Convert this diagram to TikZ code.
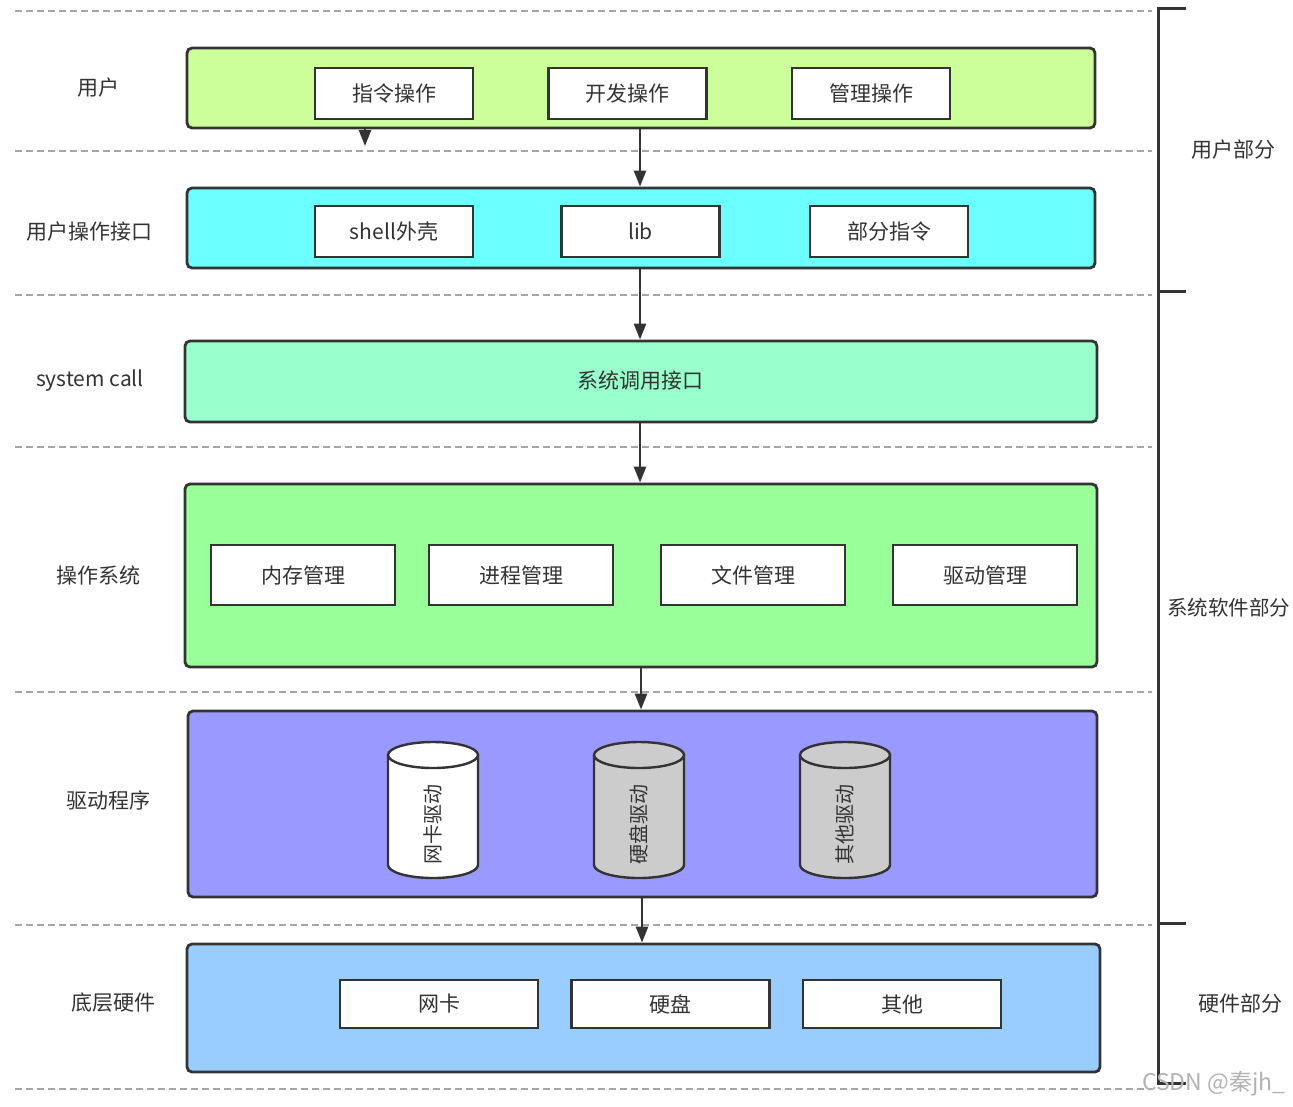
\documentclass[tikz,border=0pt]{standalone}
\usepackage{fontspec}
\setmainfont{Noto Sans CJK SC}
\usetikzlibrary{arrows.meta,calc}
\definecolor{txt}{HTML}{333333}
\definecolor{edge}{HTML}{333333}
\definecolor{dashc}{HTML}{A6A6A6}
\definecolor{cuser}{HTML}{CCFF99}
\definecolor{ciface}{HTML}{6CFFFF}
\definecolor{csys}{HTML}{99FFCC}
\definecolor{cos}{HTML}{99FF99}
\definecolor{cdrv}{HTML}{9999FF}
\definecolor{chw}{HTML}{99CCFF}
\definecolor{cgray}{HTML}{CCCCCC}
\tikzset{
  layer/.style={draw=edge, line width=2.8pt, rounded corners=5pt, inner sep=0pt},
  item/.style={draw=edge, line width=2.4pt, fill=white, inner sep=0pt, text=txt, font=\fontsize{21}{25}\selectfont},
  lbl/.style={text=txt, font=\fontsize{21}{25}\selectfont, inner sep=0pt},
  sep/.style={draw=dashc, line width=1.4pt, dash pattern=on 7pt off 4pt},
  arr/.style={draw=edge, line width=2.6pt, -{Triangle[length=16pt,width=12pt]}},
  brk/.style={draw=edge, line width=3pt},
  cylbody/.style={draw=edge, line width=2.4pt},
}
\begin{document}
\begin{tikzpicture}[x=1pt,y=-1pt]
\useasboundingbox (0,0) rectangle (1293,1106);
% dashed separators
\foreach \yy in {11,151,295,447,692,925,1089}
  \draw[sep] (15,\yy) -- (1152,\yy);
% layers
\node[layer, fill=cuser, minimum width=908pt, minimum height=80pt] (user) at (641,88) {};
\node[layer, fill=ciface, minimum width=908pt, minimum height=80pt] (iface) at (641,228) {};
\node[layer, fill=csys, minimum width=912pt, minimum height=81pt] (sys) at (641,381.5) {};
\node[layer, fill=cos, minimum width=912pt, minimum height=183pt] (os) at (641,575.5) {};
\node[layer, fill=cdrv, minimum width=909pt, minimum height=186pt] (drv) at (642.5,804) {};
\node[layer, fill=chw, minimum width=913pt, minimum height=128pt] (hw) at (643.5,1008) {};
% left labels
\node[lbl] (l1) at (98,88) {用户};
\node[lbl] (l2) at (90,232) {用户操作接口};
\node[lbl] (l3) at (90,381) {system call};
\node[lbl] (l4) at (98,575) {操作系统};
\node[lbl] (l5) at (108,800) {驱动程序};
\node[lbl] (l6) at (113,1003) {底层硬件};
% user items
\node[item, minimum width=158pt, minimum height=51pt] (u1) at (394,93.5) {指令操作};
\node[item, minimum width=158pt, minimum height=51pt] (u2) at (627.5,93.5) {开发操作};
\node[item, minimum width=158pt, minimum height=51pt] (u3) at (871,93.5) {管理操作};
% interface items
\node[item, minimum width=158pt, minimum height=51pt] (i1) at (394,231.5) {shell外壳};
\node[item, minimum width=158pt, minimum height=51pt] (i2) at (640.5,231.5) {lib};
\node[item, minimum width=158pt, minimum height=51pt] (i3) at (889,231.5) {部分指令};
% system call text
\node[lbl] (s1) at (640,381) {系统调用接口};
% os items
\node[item, minimum width=184pt, minimum height=60pt] (o1) at (303,575) {内存管理};
\node[item, minimum width=184pt, minimum height=60pt] (o2) at (521,575) {进程管理};
\node[item, minimum width=184pt, minimum height=60pt] (o3) at (753,575) {文件管理};
\node[item, minimum width=184pt, minimum height=60pt] (o4) at (985,575) {驱动管理};
% cylinders
\foreach \cx/\cf/\nm/\tx in {433/white/d1/网卡驱动, 639/cgray/d2/硬盘驱动, 845/cgray/d3/其他驱动}{
  \fill[\cf] (\cx-45,755) -- (\cx-45,865) arc[start angle=180,end angle=360,x radius=45pt,y radius=13pt] -- (\cx+45,755) -- cycle;
  \draw[cylbody, fill=\cf] (\cx-45,755) -- (\cx-45,865) arc[start angle=180,end angle=360,x radius=45pt,y radius=13pt] -- (\cx+45,755);
  \draw[cylbody, fill=\cf] (\cx,755) ellipse[x radius=45pt, y radius=13pt];
  \node[lbl, rotate=90, font=\fontsize{20}{23}\selectfont] (\nm) at (\cx,824) {\tx};
}
% hardware items
\node[item, minimum width=198pt, minimum height=48pt] (h1) at (439,1004) {网卡};
\node[item, minimum width=198pt, minimum height=48pt] (h2) at (670.5,1004) {硬盘};
\node[item, minimum width=198pt, minimum height=48pt] (h3) at (902,1004) {其他};
% arrows
\coordinate (stub) at (365,146);
\draw[arr] (user.south -| stub) -- (stub);
\draw[arr] (user.south -| 640,0) -- (iface.north -| 640,0);
\draw[arr] (iface.south -| 640,0) -- (sys.north -| 640,0);
\draw[arr] (sys.south -| 640,0) -- (os.north -| 640,0);
\draw[arr] (os.south -| 641,0) -- (drv.north -| 641,0);
\draw[arr] (drv.south -| 642,0) -- (hw.north -| 642,0);
% bracket
\draw[brk] (1186,8) -- (1158,8) -- (1158,1083) -- (1186,1083);
\draw[brk] (1158,291) -- (1186,291);
\draw[brk] (1158,923) -- (1186,923);
% right labels
\node[lbl] (r1) at (1233,150) {用户部分};
\node[lbl, anchor=west, font=\fontsize{20.5}{24}\selectfont] (r2) at (1167,608) {系统软件部分};
\node[lbl] (r3) at (1240,1003) {硬件部分};
% watermark
\node[inner sep=0pt, text=black!30, font=\fontsize{23}{26}\selectfont, anchor=west] (wm) at (1142,1084) {CSDN @秦jh\_};
\end{tikzpicture}
\end{document}
